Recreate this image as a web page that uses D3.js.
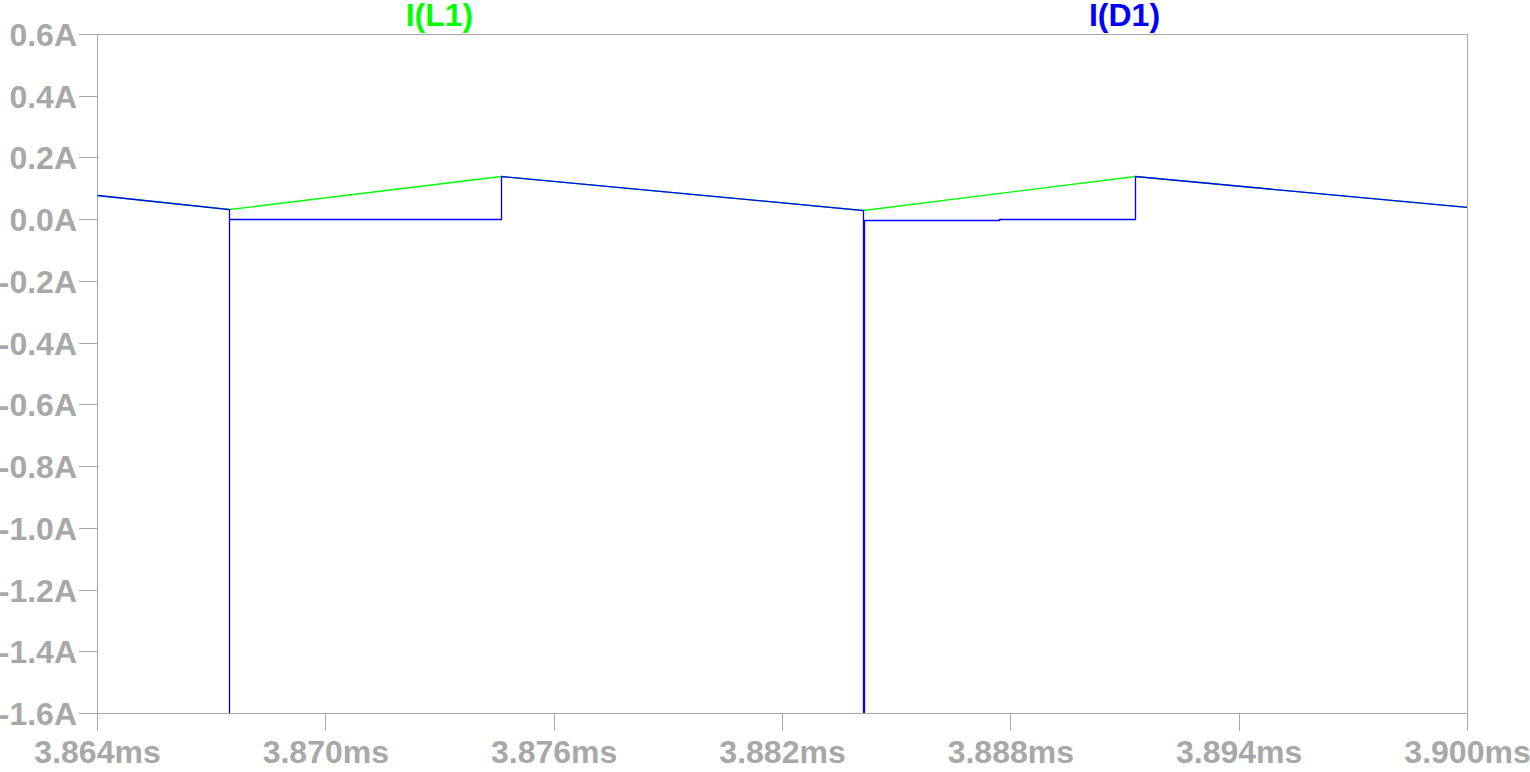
<!DOCTYPE html>
<html>
<head>
<meta charset="UTF-8">
<title>I(L1) / I(D1)</title>
<script src="https://cdnjs.cloudflare.com/ajax/libs/d3/7.8.5/d3.min.js"></script>
<style>
html, body { margin: 0; padding: 0; background: #ffffff; }
svg { display: block; }
text {
  font-family: "Liberation Sans", Arial, sans-serif;
  font-weight: bold;
  font-size: 32px;
}
.frame, .tick line { stroke: #a8a8a8; fill: none; shape-rendering: crispEdges; }
.tick text { fill: #a8a8a8; }
.trace { fill: none; stroke-width: 1.3; stroke-linejoin: miter; }
</style>
</head>
<body>
<script>
// ---- data read off the waveform viewer ----
// time in ms, current in A
var tL1 = [3.864, 3.86747, 3.87462, 3.88412, 3.89128, 3.900];
var iL1 = [0.077, 0.034, 0.139, 0.031, 0.139, 0.041];

// diode current: follows L1 while conducting, reverse-recovery spike
// (goes off the bottom of the plot) then ~0 while the switch is on
var tD1 = [3.864, 3.86747, 3.86747, 3.86747, 3.87461, 3.87462,
           3.88412, 3.88412, 3.88415, 3.88415, 3.88770, 3.88771,
           3.89127, 3.89128, 3.900];
var iD1 = [0.077, 0.034, -2.0, 0.0, 0.0, 0.139,
           0.031, -2.0, -2.0, -0.003, -0.003, 0.0,
           0.0, 0.139, 0.041];

var xTicks = [3.864, 3.870, 3.876, 3.882, 3.888, 3.894, 3.900];
var yTicks = [0.6, 0.4, 0.2, 0.0, -0.2, -0.4, -0.6, -0.8, -1.0, -1.2, -1.4, -1.6];

var traceNames = ["I(L1)", "I(D1)"];
var traceColors = ["#00ff00", "#0000ff"];

// ---- layout ----
var W = 1530, H = 772;
var margin = {top: 34, right: 63, bottom: 59, left: 97};
var width = W - margin.left - margin.right,
    height = H - margin.top - margin.bottom;

var svg = d3.select("body").append("svg")
    .attr("width", W)
    .attr("height", H);

var x = d3.scaleLinear().domain([3.864, 3.900]).range([0, width]);
var y = d3.scaleLinear().domain([0.6, -1.6]).range([0, height]);

var g = svg.append("g")
    .attr("transform", "translate(" + margin.left + "," + margin.top + ")");

g.append("clipPath").attr("id", "plotclip")
  .append("rect").attr("width", width).attr("height", height);

// axes: ticks outside, no grid
var yAxis = d3.axisLeft(y)
    .tickValues(yTicks)
    .tickSize(18)
    .tickPadding(2)
    .tickFormat(function(d) { return d.toFixed(1) + "A"; });

var xAxis = d3.axisBottom(x)
    .tickValues(xTicks)
    .tickSize(18)
    .tickPadding(6)
    .tickFormat(function(d) { return d.toFixed(3) + "ms"; });

var ya = g.append("g").call(yAxis);
ya.select(".domain").remove();
ya.selectAll(".tick text")
    .attr("dy", null)
    .attr("y", 11.5);

var xa = g.append("g").attr("transform", "translate(0," + height + ")").call(xAxis);
xa.select(".domain").remove();
xa.selectAll(".tick text")
    .attr("dy", null)
    .attr("y", 50);

g.append("rect")
    .attr("class", "frame")
    .attr("width", width)
    .attr("height", height);

// traces - L1 first, D1 drawn on top (snapped to pixel centres)
var line = d3.line()
    .x(function(d) { return Math.round(x(d[0])) + 0.5; })
    .y(function(d) { return Math.round(y(d[1])) + 0.5; });

var plot = g.append("g").attr("clip-path", "url(#plotclip)");

plot.append("path")
    .attr("class", "trace")
    .attr("stroke", traceColors[0])
    .attr("d", line(d3.zip(tL1, iL1)));

plot.append("path")
    .attr("class", "trace")
    .attr("stroke", traceColors[1])
    .attr("d", line(d3.zip(tD1, iD1)));

// trace labels at 1/4 and 3/4 of the plot width
svg.selectAll(".label")
    .data(traceNames)
  .enter().append("text")
    .attr("class", "label")
    .attr("x", function(d, i) { return margin.left + width * (i * 2 + 1) / 4; })
    .attr("y", 26)
    .attr("text-anchor", "middle")
    .attr("fill", function(d, i) { return traceColors[i]; })
    .text(function(d) { return d; });
</script>
</body>
</html>
